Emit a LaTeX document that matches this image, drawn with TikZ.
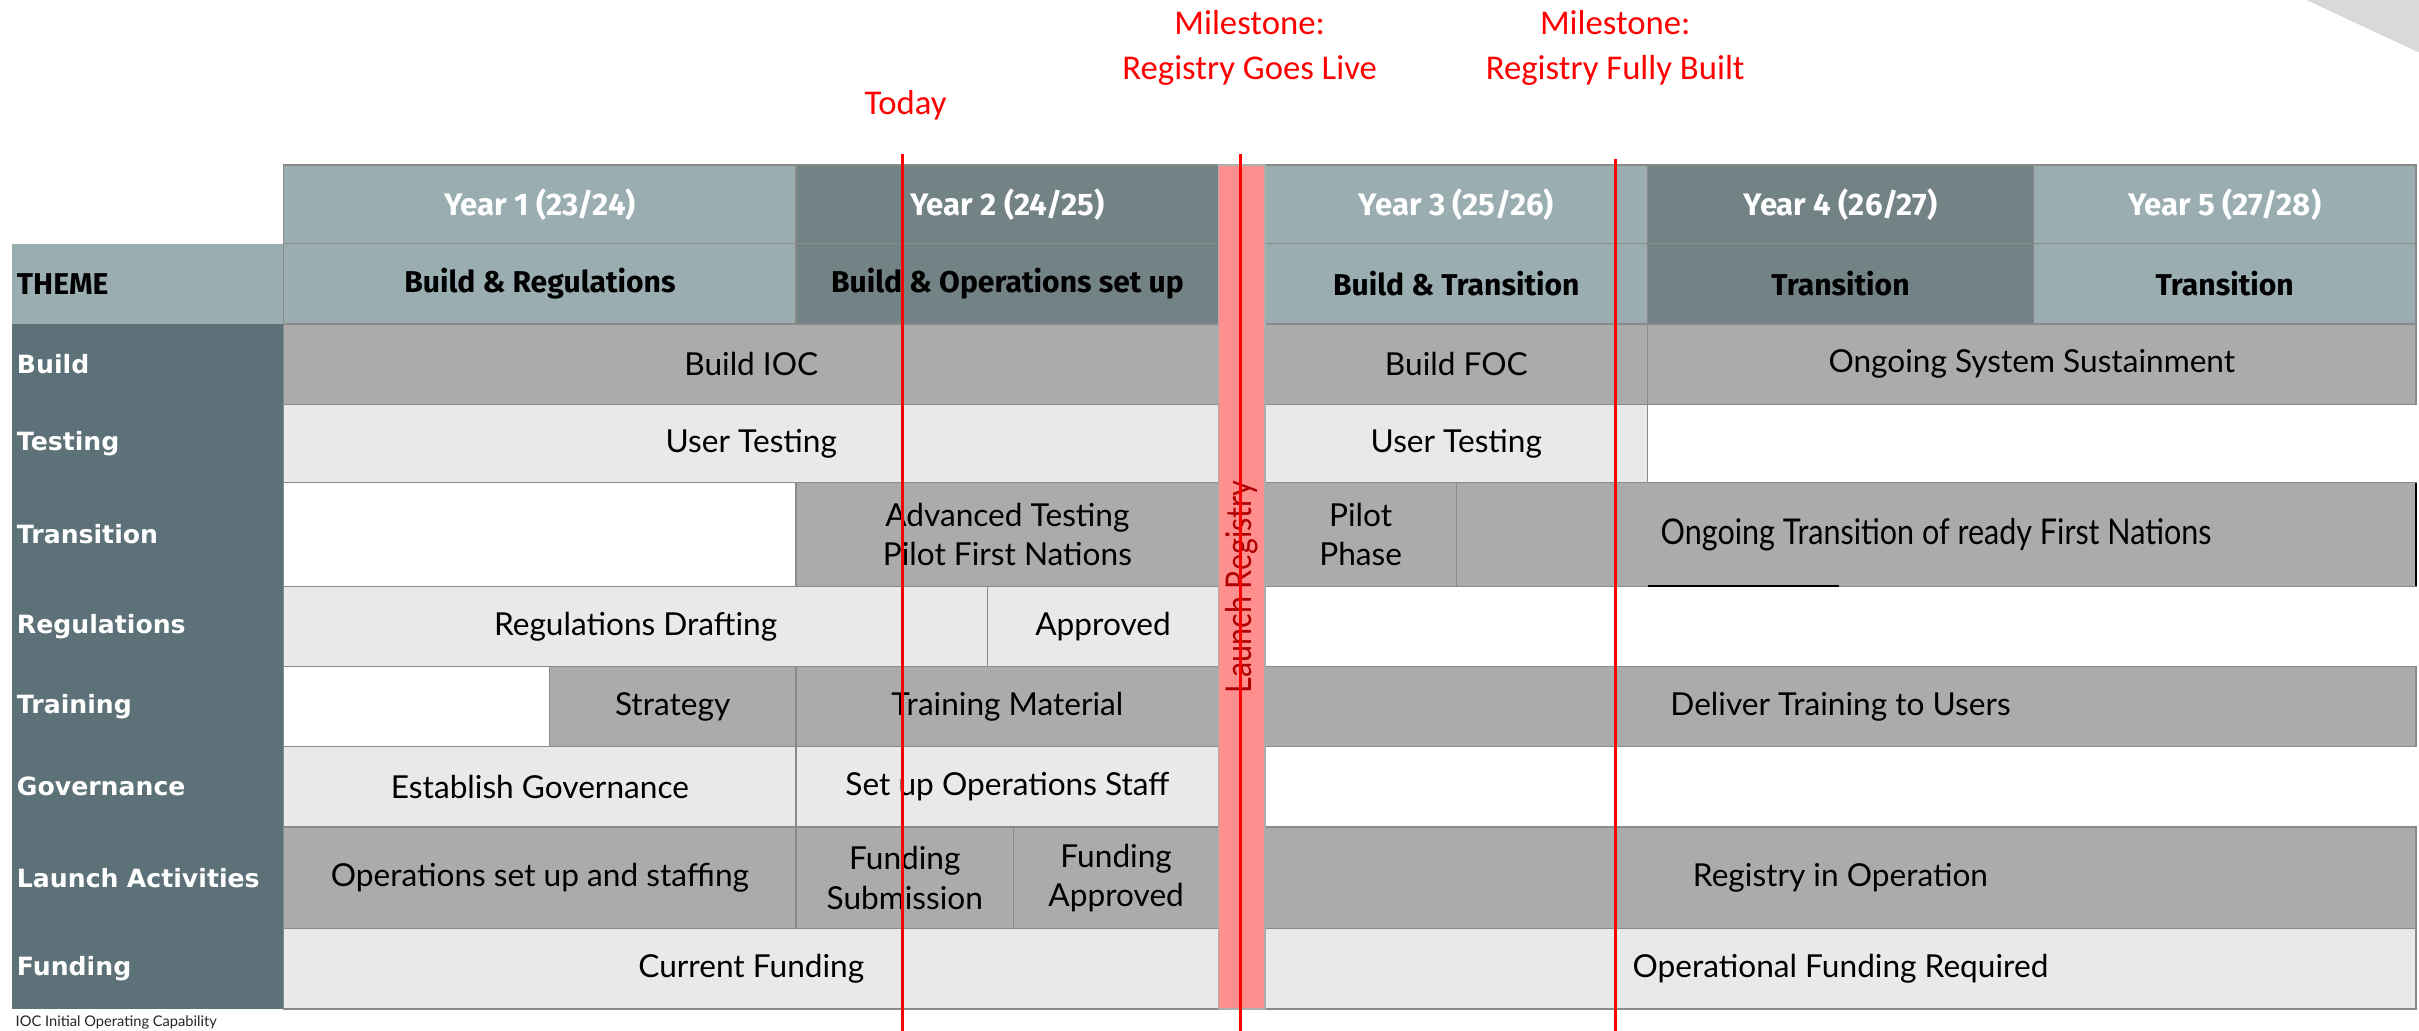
\documentclass[tikz,border=0pt]{standalone}
\usepackage{fontspec}
\setmainfont{Lato}
\newfontfamily\lblfont{DejaVu Sans}
\newfontfamily\hdrfont{Fira Sans}
\newfontfamily\redfont{Carlito}
\newfontfamily\cellfont{Lato}
\newfontfamily\narrowfont{Lato}[FakeStretch=0.86]
\definecolor{hdrL}{HTML}{9AADB1}
\definecolor{hdrD}{HTML}{728285}
\definecolor{lblc}{HTML}{5C7178}
\definecolor{cellG}{HTML}{ABABAB}
\definecolor{cellL}{HTML}{E9E9E8}
\definecolor{bordc}{HTML}{8A8A8A}
\definecolor{pinkc}{HTML}{FF8F8F}
\definecolor{launchc}{HTML}{B00000}
\definecolor{redc}{HTML}{FF0000}
\definecolor{cornerc}{HTML}{D9D9D9}
\tikzset{
  cellbase/.style={rectangle, inner sep=0pt, outer sep=0pt, draw=bordc, line width=0.8pt,
    align=center, font=\cellfont\fontsize{20.5}{25.5}\selectfont, text=black},
  gcell/.style={cellbase, fill=cellG},
  lcell/.style={cellbase, fill=cellL},
  wcell/.style={cellbase, fill=white},
  hdrcell/.style={cellbase, font=\hdrfont\bfseries\fontsize{19.5}{23}\selectfont},
  yearL/.style={hdrcell, fill=hdrL, text=white, font=\hdrfont\bfseries\fontsize{20.2}{24}\selectfont},
  yearD/.style={hdrcell, fill=hdrD, text=white, font=\hdrfont\bfseries\fontsize{20.2}{24}\selectfont},
  themeL/.style={hdrcell, fill=hdrL, text=black},
  themeD/.style={hdrcell, fill=hdrD, text=black},
  lblcell/.style={rectangle, outer sep=0pt, inner ysep=0pt, inner xsep=3pt, text width=170pt,
    minimum width=176pt, align=left, fill=lblc, text=white,
    font=\lblfont\bfseries\fontsize{16.3}{19}\selectfont},
  redtext/.style={text=redc, align=center, font=\redfont\fontsize{22.5}{29}\selectfont, inner sep=0pt},
  redline/.style={draw=redc, line width=2pt},
}
\newcommand\bx[7]{\node[#6, minimum width={(#3-#2)*1pt}, minimum height={(#5-#4)*1pt}] (#1) at ({(#2+#3)/2},{(#4+#5)/2}) {#7};}
\newcommand\lb[5]{\node[lblcell, #4, minimum height={(#3-#2)*1pt}] (#1) at (96,{(#2+#3)/2}) {#5};}
\begin{document}
\begin{tikzpicture}[x=1pt, y=-1pt]
\useasboundingbox (0,0) rectangle (1568,668);
\clip (0,0) rectangle (1568,668);
\fill[white] (0,0) rectangle (1568,668);
% corner decoration
\fill[cornerc] (1495,0) -- (1568,0) -- (1568,34) -- cycle;

% header rows
\bx{y1}{184}{516}{107}{158}{yearL}{Year 1 (23/24)}
\bx{y2}{516}{790}{107}{158}{yearD}{Year 2 (24/25)}
\bx{y3}{820}{1068}{107}{158}{yearL}{Year 3 (25/26)}
\bx{y4}{1068}{1318}{107}{158}{yearD}{Year 4 (26/27)}
\bx{y5}{1318}{1566}{107}{158}{yearL}{Year 5 (27/28)}
\lb{theme}{158}{210}{fill=hdrL, text=black, font=\hdrfont\bfseries\fontsize{19.5}{23}\selectfont}{THEME}
\bx{t1}{184}{516}{158}{210}{themeL}{Build \& Regulations}
\bx{t2}{516}{790}{158}{210}{themeD}{Build \& Operations set up}
\bx{t3}{820}{1068}{158}{210}{themeL}{Build \& Transition}
\bx{t4}{1068}{1318}{158}{210}{themeD}{Transition}
\bx{t5}{1318}{1566}{158}{210}{themeL}{Transition}

% row labels
\lb{lBuild}{210}{262}{}{Build}
\lb{lTest}{262}{313}{}{Testing}
\lb{lTrans}{313}{380}{}{Transition}
\lb{lReg}{380}{432}{}{Regulations}
\lb{lTrain}{432}{484}{}{Training}
\lb{lGov}{484}{536}{}{Governance}
\lb{lLaunch}{536}{602}{}{Launch Activities}
\lb{lFund}{602}{654}{}{Funding}

% Build
\bx{bIOC}{184}{790}{210}{262}{gcell}{Build IOC}
\bx{bFOC}{820}{1068}{210}{262}{gcell}{Build FOC}
\bx{bSus}{1068}{1566}{210}{262}{gcell}{Ongoing System Sustainment}
% Testing
\bx{tU1}{184}{790}{262}{313}{lcell}{User Testing}
\bx{tU2}{820}{1068}{262}{313}{lcell}{User Testing}
% Transition
\bx{trW}{184}{516}{313}{380}{wcell}{}
\bx{trAdv}{516}{790}{313}{380}{gcell}{Advanced Testing\\Pilot First Nations}
\bx{trPil}{820}{944}{313}{380}{gcell}{Pilot\\Phase}
\bx{trOn}{944}{1566}{313}{380}{gcell, font=\narrowfont\fontsize{23}{27}\selectfont}{Ongoing Transition of ready First Nations}
% Regulations
\bx{rDr}{184}{640}{380}{432}{lcell}{Regulations Drafting}
\bx{rAp}{640}{790}{380}{432}{lcell}{Approved}
% Training
\bx{trnW}{184}{356}{432}{484}{wcell}{}
\bx{trnS}{356}{516}{432}{484}{gcell}{Strategy}
\bx{trnM}{516}{790}{432}{484}{gcell}{Training Material}
\bx{trnD}{820}{1566}{432}{484}{gcell}{Deliver Training to Users}
% Governance
\bx{gE}{184}{516}{484}{536}{lcell}{Establish Governance}
\bx{gS}{516}{790}{484}{536}{lcell}{Set up Operations Staff}
% Launch activities
\bx{laO}{184}{516}{536}{602}{gcell}{Operations set up and staffing}
\bx{laS}{516}{657}{536}{602}{gcell}{Funding\\Submission}
\bx{laA}{657}{790}{536}{602}{gcell}{Funding\\Approved}
\bx{laR}{820}{1566}{536}{602}{gcell}{Registry in Operation}
% Funding
\bx{fC}{184}{790}{602}{654}{lcell}{Current Funding}
\bx{fO}{820}{1566}{602}{654}{lcell}{Operational Funding Required}

% black marks on transition row
\draw[black, line width=1.6pt] (1068,380) -- (1192,380);
\draw[black, line width=1.4pt] (trOn.north east) -- (trOn.south east);

% launch registry band
\bx{band}{790}{820}{107}{654}{cellbase, fill=pinkc, draw=bordc!70}{}
\node[rotate=90, text=launchc, font=\narrowfont\fontsize{23}{27}\selectfont, inner sep=0pt] (bandtxt) at (band.center) {Launch Registry};

% milestone labels
\node[redtext] (today) at (587,68) {Today};
\node[redtext] (live) at (810,31) {Milestone:\\Registry Goes Live};
\node[redtext] (built) at (1047,31) {Milestone:\\Registry Fully Built};

% red lines
\coordinate (todayTop) at (585,100);
\coordinate (todayBot) at (585,668);
\coordinate (liveTop) at (804,100);
\coordinate (liveBot) at (804,668);
\coordinate (builtTop) at (1047,103);
\coordinate (builtBot) at (1047,668);
\draw[redline] (todayTop) -- (todayBot);
\draw[redline] (liveTop) -- (liveBot);
\draw[redline] (builtTop) -- (builtBot);

% footnote
\node[anchor=base west, inner sep=0pt, text=black!85, font=\cellfont\fontsize{9.5}{11}\selectfont] (foot) at (10,665.3) {IOC Initial Operating Capability};
\end{tikzpicture}
\end{document}
